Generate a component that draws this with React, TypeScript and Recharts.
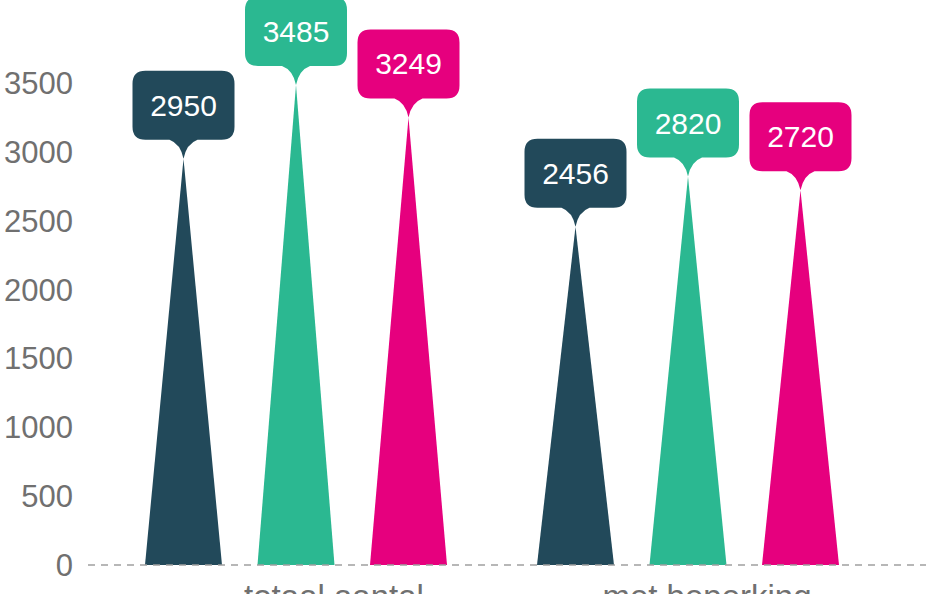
import { BarChart, Bar, XAxis, YAxis, LabelList } from "recharts";

const categories = ["totaal aantal", "met beperking"];
const seriesDark = [2950, 2456];
const seriesGreen = [3485, 2820];
const seriesPink = [3249, 2720];
const yTicks = [0, 500, 1000, 1500, 2000, 2500, 3000, 3500];

const DARK = "#22495a";
const GREEN = "#2bb891";
const PINK = "#e6007e";
const FONT = "'Liberation Sans', Arial, Helvetica, sans-serif";

const data = categories.map((name, i) => ({
  name,
  dark: seriesDark[i],
  green: seriesGreen[i],
  pink: seriesPink[i],
}));

// bar drawn as a tall triangle from the base to the value
function Spike(props: any) {
  const { x, y, width, height, fill } = props;
  if (!height) return null;
  const bottom = y + height;
  return (
    <path
      d={`M${x},${bottom} L${x + width / 2},${y} L${x + width},${bottom} Z`}
      fill={fill}
    />
  );
}

// rounded callout box with a pointer to the peak
function makeBubble(color: string) {
  return function Bubble(props: any) {
    const { x, y, width, value } = props;
    const cx = x + width / 2;
    const tip = y;
    const bw = 102;
    const bh = 69;
    const bottom = tip - 19;
    const top = bottom - bh;
    const r = 13;
    const left = cx - bw / 2;
    const right = cx + bw / 2;
    const pw = 14;
    const d = [
      `M${left + r},${top}`,
      `L${right - r},${top}`,
      `Q${right},${top} ${right},${top + r}`,
      `L${right},${bottom - r}`,
      `Q${right},${bottom} ${right - r},${bottom}`,
      `L${cx + pw},${bottom}`,
      `Q${cx + 3},${bottom + 4} ${cx},${tip}`,
      `Q${cx - 3},${bottom + 4} ${cx - pw},${bottom}`,
      `L${left + r},${bottom}`,
      `Q${left},${bottom} ${left},${bottom - r}`,
      `L${left},${top + r}`,
      `Q${left},${top} ${left + r},${top}`,
      "Z",
    ].join(" ");
    return (
      <g>
        <path d={d} fill={color} />
        <text
          x={cx}
          y={(top + bottom) / 2}
          textAnchor="middle"
          dominantBaseline="central"
          fill="#ffffff"
          fontSize={30}
          fontFamily={FONT}
        >
          {value}
        </text>
      </g>
    );
  };
}

const labelShift = [38, 19];

function CategoryTick(props: any) {
  const { x, y, payload, index } = props;
  return (
    <text
      x={x + (labelShift[index] ?? 0)}
      y={y}
      dy="0.71em"
      textAnchor="middle"
      fill="#707070"
      fontSize={33}
      fontFamily={FONT}
    >
      {payload.value}
    </text>
  );
}

export default function App() {
  return (
    <div style={{ position: "absolute", left: 0, top: 0, background: "#fff" }}>
      <BarChart
        width={926}
        height={594}
        data={data}
        margin={{ top: 14, right: 0, left: 0, bottom: 0 }}
        barSize={77}
        barGap={35.5}
      >
        <XAxis
          dataKey="name"
          height={29}
          padding={{ left: 12, right: 42 }}
          axisLine={{ stroke: "#a0a0a0", strokeDasharray: "7 6", strokeWidth: 1.5 }}
          tickLine={false}
          tickMargin={14}
          tick={<CategoryTick />}
          interval={0}
        />
        <YAxis
          width={88}
          domain={[0, 4000]}
          ticks={yTicks}
          axisLine={false}
          tickLine={false}
          tickMargin={9}
          tick={{ fill: "#707070", fontSize: 31, fontFamily: FONT }}
        />
        <Bar dataKey="dark" fill={DARK} shape={<Spike />} isAnimationActive={false}>
          <LabelList dataKey="dark" content={makeBubble(DARK)} />
        </Bar>
        <Bar dataKey="green" fill={GREEN} shape={<Spike />} isAnimationActive={false}>
          <LabelList dataKey="green" content={makeBubble(GREEN)} />
        </Bar>
        <Bar dataKey="pink" fill={PINK} shape={<Spike />} isAnimationActive={false}>
          <LabelList dataKey="pink" content={makeBubble(PINK)} />
        </Bar>
      </BarChart>
    </div>
  );
}
